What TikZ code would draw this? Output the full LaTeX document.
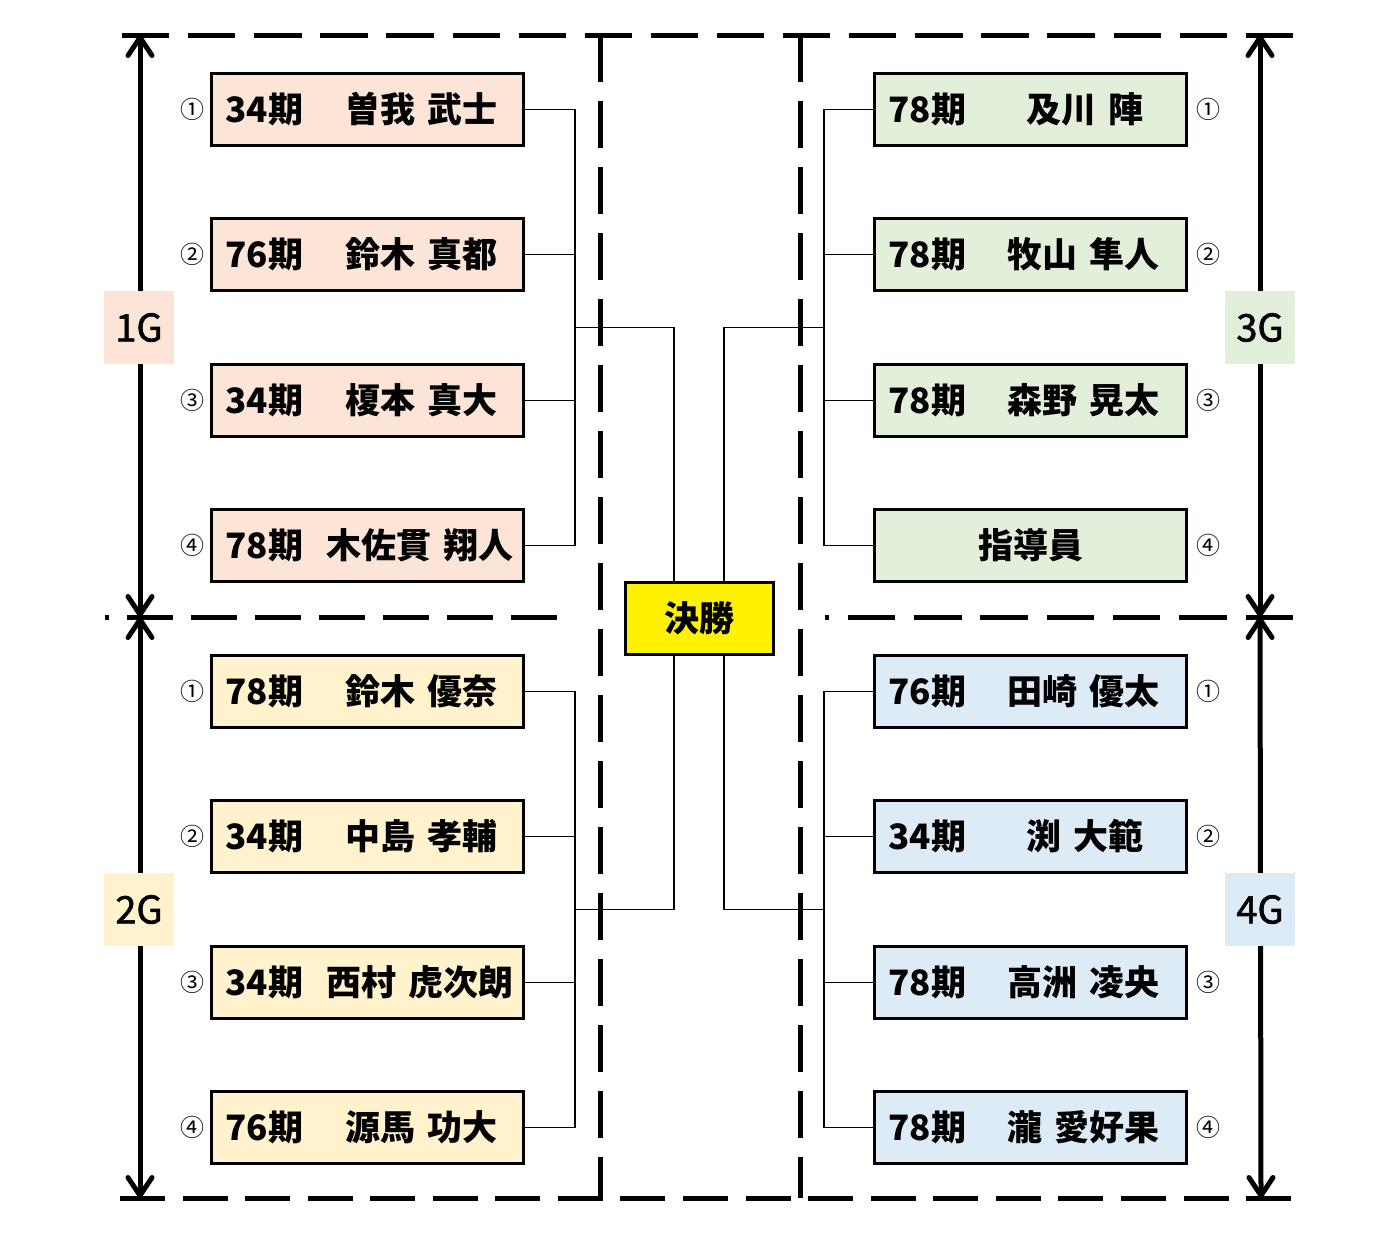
\documentclass[tikz,border=0pt]{standalone}
\usepackage{fontspec}
\usepackage{xcolor}
\usetikzlibrary{arrows.meta}
\newfontfamily\jpfont{Noto Sans CJK JP}
\newfontfamily\jpmid{Noto Sans CJK JP}[FakeBold=1.5]
\definecolor{oneG}{HTML}{FCE4D6}
\definecolor{twoG}{HTML}{FFF2CC}
\definecolor{threeG}{HTML}{E2EFDA}
\definecolor{fourG}{HTML}{DDEBF7}
\newcommand\ki[2][60pt]{\makebox[#1][l]{#2}}

\begin{document}
\begin{tikzpicture}[x=0.5pt,y=-0.5pt]
\tikzset{player/.style={draw,line width=1.5pt,minimum height=36pt,text width=142pt,inner xsep=7pt,align=left,font=\jpfont\bfseries\fontsize{17.5}{20}\selectfont}}
\tikzset{seed/.style={inner sep=0pt,font=\jpfont\fontsize{12}{14}\selectfont}}
\tikzset{grouplabel/.style={minimum width=35pt,minimum height=36.5pt,inner sep=0pt,font=\jpmid\fontsize{19}{22}\selectfont}}
\tikzset{divider/.style={line width=2.5pt,dash pattern=on 23.65pt off 9.4pt}}
\tikzset{link/.style={line width=0.6pt}}
\tikzset{span arrow/.style={line width=2.5pt,{Straight Barb[length=9pt,width=12pt,round]}-{Straight Barb[length=9pt,width=12pt,round]}}}

\useasboundingbox (0,0) rectangle (1400,1238);

% dividers
\draw[divider] (122,35) -- (1293,35);
\draw[divider,dash pattern=on 22.5pt off 8.78pt] (120,1198) -- (1293,1198);
\draw[divider,dash pattern=on 23.25pt off 8.75pt] (557,617) -- (105,617);
\draw[divider,dash pattern=on 23.75pt off 9.4pt] (1293,617) -- (825,617);
\draw[divider,dash pattern=on 23.5pt off 9.5pt] (600,35) -- (600,1198);
\draw[divider,dash pattern=on 23.5pt off 9.5pt] (800,35) -- (800,1198);

% group arrows
\coordinate (lt) at (140,35);
\coordinate (lm) at (140,617);
\coordinate (lb) at (140,1198);
\coordinate (rt) at (1260,35);
\coordinate (rm) at (1260,617);
\coordinate (rb) at (1261,1198);
\draw[span arrow] (lt) -- (lm);
\draw[span arrow] (lm) -- (lb);
\draw[span arrow] (rt) -- (rm);
\draw[span arrow] (rm) -- (rb);

\node[grouplabel,fill=oneG] (g1) at (139,327.5) {1G};
\node[grouplabel,fill=twoG] (g2) at (139,909.5) {2G};
\node[grouplabel,fill=threeG] (g3) at (1260,327.5) {3G};
\node[grouplabel,fill=fourG] (g4) at (1260,909.5) {4G};

% 1G
\node[player,fill=oneG] (a1) at (367.5,109.5) {\ki{34期}曽我 武士};
\node[player,fill=oneG] (a2) at (367.5,254.5) {\ki{76期}鈴木 真都};
\node[player,fill=oneG] (a3) at (367.5,400.5) {\ki{34期}榎本 真大};
\node[player,fill=oneG] (a4) at (367.5,545.5) {\ki[50.5pt]{78期}木佐貫~翔人};
% 2G
\node[player,fill=twoG] (b1) at (367.5,691.5) {\ki{78期}鈴木 優奈};
\node[player,fill=twoG] (b2) at (367.5,836.5) {\ki{34期}中島 孝輔};
\node[player,fill=twoG] (b3) at (367.5,982.5) {\ki[50.5pt]{34期}西村~虎次朗};
\node[player,fill=twoG] (b4) at (367.5,1127.5) {\ki{76期}源馬 功大};
% 3G
\node[player,fill=threeG] (c1) at (1030.5,109.5) {\ki[69pt]{78期}及川 陣};
\node[player,fill=threeG] (c2) at (1030.5,254.5) {\ki[59.5pt]{78期}牧山 隼人};
\node[player,fill=threeG] (c3) at (1030.5,400.5) {\ki[59.5pt]{78期}森野 晃太};
\node[player,fill=threeG,align=center] (c4) at (1030.5,545.5) {指導員};
% 4G
\node[player,fill=fourG] (d1) at (1030.5,691.5) {\ki[59.5pt]{76期}田崎 優太};
\node[player,fill=fourG] (d2) at (1030.5,836.5) {\ki[69pt]{34期}渕 大範};
\node[player,fill=fourG] (d3) at (1030.5,982.5) {\ki[59.5pt]{78期}高洲 凌央};
\node[player,fill=fourG] (d4) at (1030.5,1127.5) {\ki[59.5pt]{78期}瀧 愛好果};

\node[draw,line width=1.5pt,fill=yellow,minimum width=74pt,minimum height=36pt,font=\jpfont\bfseries\fontsize{17.5}{20}\selectfont] (final) at (699,618.5) {決勝};

% seeds
\foreach \g in {a,b} {
  \node[seed] (\g1s) at ([xshift=-9pt]\g1.west) {①};
  \node[seed] (\g2s) at ([xshift=-9pt]\g2.west) {②};
  \node[seed] (\g3s) at ([xshift=-9pt]\g3.west) {③};
  \node[seed] (\g4s) at ([xshift=-9pt]\g4.west) {④};
}
\foreach \g in {c,d} {
  \node[seed] (\g1s) at ([xshift=10pt]\g1.east) {①};
  \node[seed] (\g2s) at ([xshift=10pt]\g2.east) {②};
  \node[seed] (\g3s) at ([xshift=10pt]\g3.east) {③};
  \node[seed] (\g4s) at ([xshift=10pt]\g4.east) {④};
}

% bracket
\coordinate (ja) at (575,327.5);
\coordinate (jb) at (575,909.5);
\coordinate (jc) at (824,327.5);
\coordinate (jd) at (824,909.5);
\foreach \i in {1,...,4} {
  \draw[link] (a\i.east) -| (ja);
  \draw[link] (b\i.east) -| (jb);
  \draw[link] (c\i.west) -| (jc);
  \draw[link] (d\i.west) -| (jd);
}
\draw[link] (ja) -| ([xshift=-12.5pt]final.north);
\draw[link] (jb) -| ([xshift=-12.5pt]final.south);
\draw[link] (jc) -| ([xshift=12.5pt]final.north);
\draw[link] (jd) -| ([xshift=12.5pt]final.south);

\end{tikzpicture}
\end{document}
